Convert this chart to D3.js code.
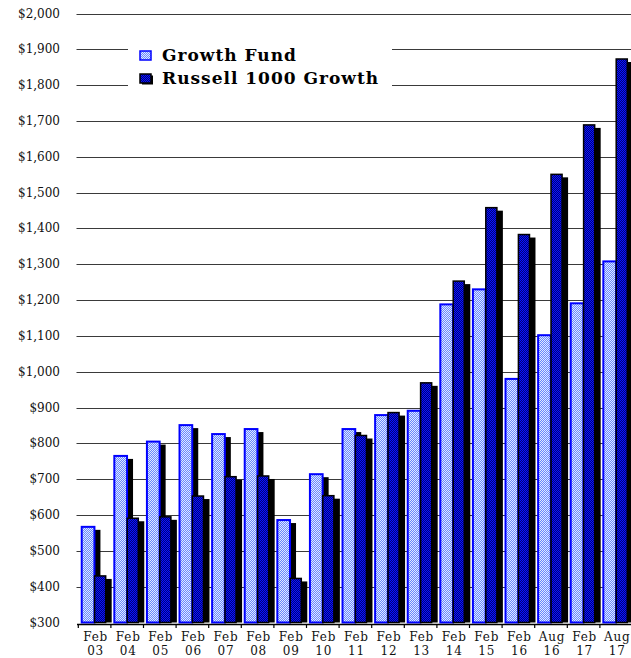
<!DOCTYPE html>
<html><head><meta charset="utf-8">
<script src="https://cdn.jsdelivr.net/npm/d3@7"></script>
<style>html,body{margin:0;padding:0;background:#fff;}svg{display:block;}</style>
</head><body>
<svg id="chart" width="631" height="658"></svg>
<script>
const categories = ["Feb 03","Feb 04","Feb 05","Feb 06","Feb 07","Feb 08","Feb 09","Feb 10","Feb 11","Feb 12","Feb 13","Feb 14","Feb 15","Feb 16","Aug 16","Feb 17","Aug 17"];
const growthFund = [567, 765, 805, 851, 826, 840, 586, 714, 840, 879, 891, 1188, 1230, 980, 1102, 1191, 1308];
const russell1000 = [430, 591, 595, 653, 707, 709, 423, 654, 822, 886, 969, 1253, 1458, 1383, 1551, 1689, 1873];
const yTicks = [300,400,500,600,700,800,900,1000,1100,1200,1300,1400,1500,1600,1700,1800,1900,2000];
const seriesNames = ["Growth Fund","Russell 1000 Growth"];

const svg = d3.select("#chart");
const x = d3.scaleBand().domain(categories).range([78.3, 632.5]).padding(0);
const y = d3.scaleLinear().domain([300, 2000]).range([622.5, 13.5]);
const bw = x.bandwidth();

const defs = svg.append("defs");
function checker(id, a, b) {
  const p = defs.append("pattern").attr("id", id).attr("patternUnits", "userSpaceOnUse")
    .attr("width", 2).attr("height", 2);
  p.append("rect").attr("width", 2).attr("height", 2).attr("fill", a).attr("shape-rendering", "crispEdges");
  p.append("rect").attr("x", 1).attr("y", 0).attr("width", 1).attr("height", 1).attr("fill", b).attr("shape-rendering", "crispEdges");
  p.append("rect").attr("x", 0).attr("y", 1).attr("width", 1).attr("height", 1).attr("fill", b).attr("shape-rendering", "crispEdges");
}
checker("pLight", "#e8eeff", "#5a7dff");
checker("pDark", "#0a14ff", "#00007a");

// gridlines
svg.append("g").selectAll("line").data(yTicks.slice(1)).join("line")
  .attr("x1", 76.5).attr("x2", 631)
  .attr("y1", d => Math.round(y(d)) + 0.5).attr("y2", d => Math.round(y(d)) + 0.5)
  .attr("stroke", "#3a3a3a").attr("stroke-width", 1);

// y labels
svg.append("g").selectAll("text").data(yTicks).join("text")
  .attr("x", 60).attr("y", d => y(d) + 4)
  .attr("text-anchor", "end")
  .attr("font-family", "DejaVu Serif").attr("font-size", 12)
  .attr("fill", "#111")
  .text(d => "$" + d3.format(",")(d));

const dx = 6, dy = 3;
const barsG = svg.append("g");
const groups = barsG.selectAll("g").data(categories).join("g");
groups.each(function(c, i) {
  const g = d3.select(this);
  const x0 = x(c);
  const lx = x0 + bw * 0.105, lw = bw * 0.39;
  const rx = x0 + bw * 0.5, rw = bw * 0.34;
  const base = y(300);
  g.append("rect").attr("x", lx + dx).attr("y", y(growthFund[i]) + dy)
    .attr("width", lw).attr("height", base - y(growthFund[i]) - dy).attr("fill", "#000");
  g.append("rect").attr("x", lx).attr("y", y(growthFund[i]))
    .attr("width", lw).attr("height", base - y(growthFund[i]))
    .attr("fill", "#b4c4ff");
  g.append("rect").attr("x", lx).attr("y", y(growthFund[i]))
    .attr("width", lw).attr("height", base - y(growthFund[i]))
    .attr("fill", "url(#pLight)").attr("fill-opacity", 0.85)
    .attr("stroke", "#0000ff").attr("stroke-width", 2);
  g.append("rect").attr("x", rx + dx).attr("y", y(russell1000[i]) + dy)
    .attr("width", rw).attr("height", base - y(russell1000[i]) - dy).attr("fill", "#000");
  g.append("rect").attr("x", rx).attr("y", y(russell1000[i]))
    .attr("width", rw).attr("height", base - y(russell1000[i]))
    .attr("fill", "url(#pDark)").attr("stroke", "#000").attr("stroke-width", 1.5);
});

// x axis
svg.append("line").attr("x1", 77).attr("x2", 631).attr("y1", 624.5).attr("y2", 624.5)
  .attr("stroke", "#000").attr("stroke-width", 1.5);
svg.append("g").selectAll("line").data(categories).join("line")
  .attr("x1", d => x(d)).attr("x2", d => x(d))
  .attr("y1", 624).attr("y2", 628).attr("stroke", "#000").attr("stroke-width", 1.2);
const xl = svg.append("g").selectAll("text").data(categories).join("text")
  .attr("text-anchor", "middle")
  .attr("font-family", "DejaVu Serif").attr("font-size", 12)
  .attr("letter-spacing", 0.8).attr("fill", "#111");
xl.append("tspan").attr("x", d => x(d) + bw / 2 + 1).attr("y", 641).text(d => d.split(" ")[0]);
xl.append("tspan").attr("x", d => x(d) + bw / 2 + 1).attr("y", 655).text(d => d.split(" ")[1]);

// legend
const lg = svg.append("g");
lg.append("rect").attr("x", 128).attr("y", 36).attr("width", 264).attr("height", 60).attr("fill", "#fff");
const keys = [{name: seriesNames[0], fill: "url(#pLight)", stroke: "#0000ff", y: 51},
              {name: seriesNames[1], fill: "url(#pDark)", stroke: "#000", y: 74}];
keys.forEach(k => {
  if (k.stroke === "#000") lg.append("rect").attr("x", 142).attr("y", k.y + 1.5).attr("width", 11).attr("height", 9).attr("fill", "#000");
  else lg.append("rect").attr("x", 140).attr("y", k.y).attr("width", 11).attr("height", 9).attr("fill", "#b4c4ff");
  lg.append("rect").attr("x", 140).attr("y", k.y).attr("width", 11).attr("height", 9)
    .attr("fill", k.fill).attr("fill-opacity", k.stroke === "#000" ? 1 : 0.85)
    .attr("stroke", k.stroke).attr("stroke-width", 1.5);
  lg.append("text").attr("x", 162).attr("y", k.y + 9.5)
    .attr("font-family", "DejaVu Serif").attr("font-weight", "bold").attr("font-size", 17)
    .attr("letter-spacing", 1).attr("fill", "#000").text(k.name);
});
</script>
</body></html>
